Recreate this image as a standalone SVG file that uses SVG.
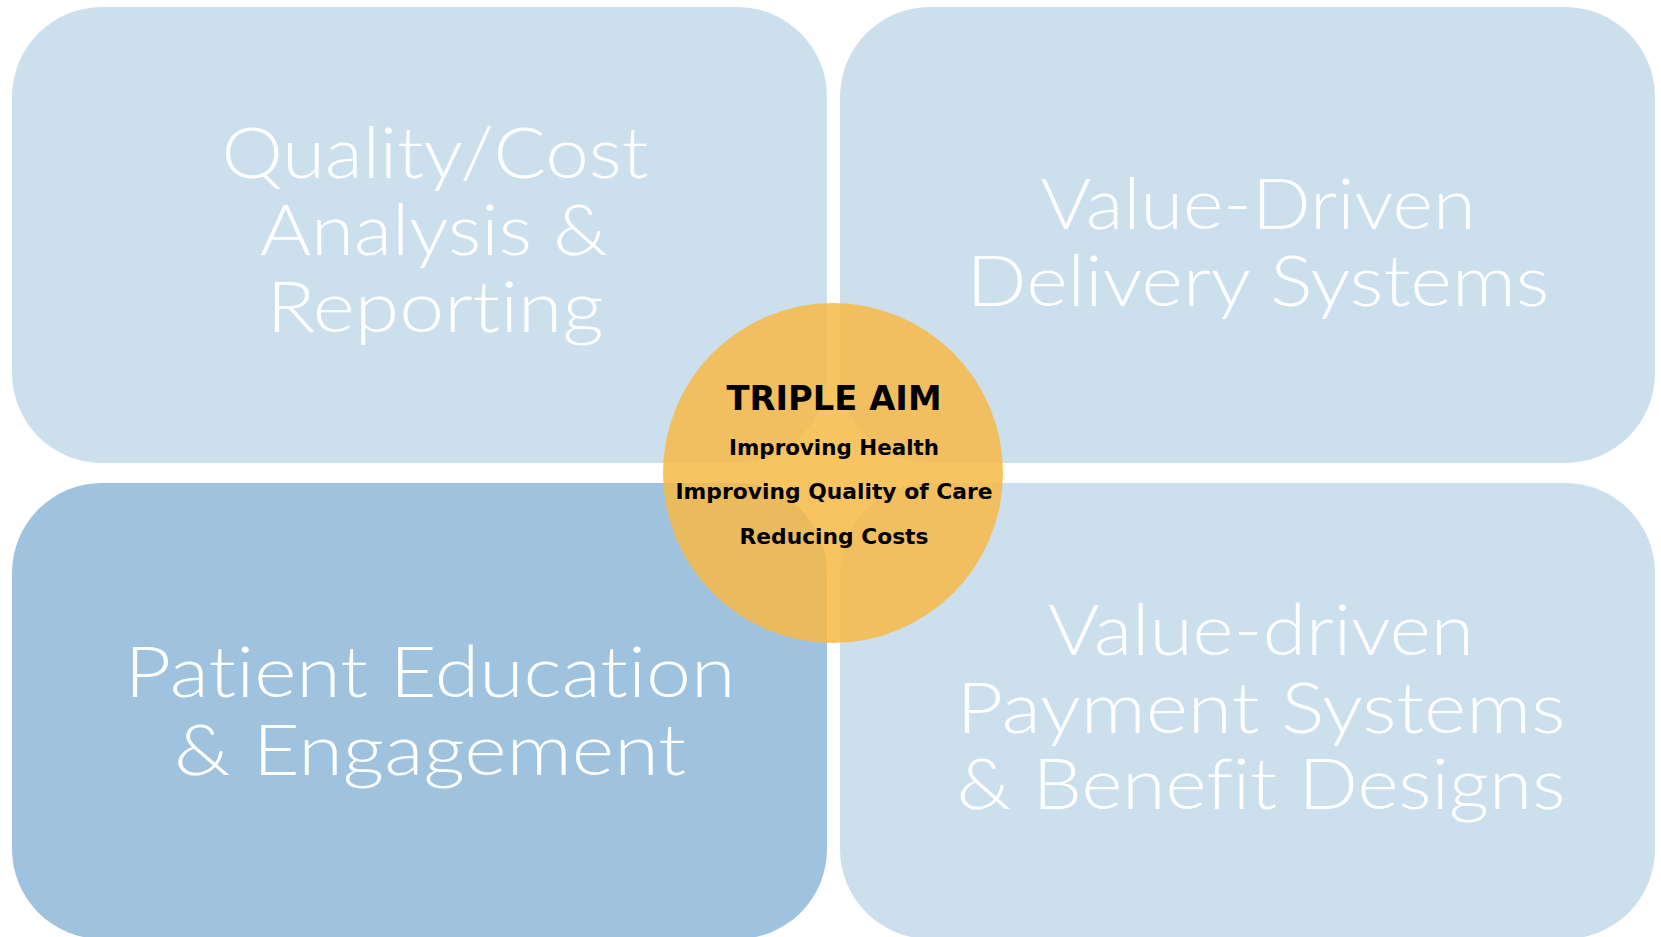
<svg xmlns="http://www.w3.org/2000/svg" width="1661" height="937" viewBox="0 0 1661 937">
<style>
.box{fill:#CCDFED}
.box2{fill:#9FC2DF}
.big{font-family:Lato,"Open Sans","Noto Sans",sans-serif;font-weight:300;font-size:70px;fill:#FFFFFF;text-anchor:middle;font-variant-ligatures:none;font-feature-settings:"liga" 0,"clig" 0}
.aim{font-family:"DejaVu Sans","Liberation Sans",sans-serif;font-weight:bold;fill:#000000;text-anchor:middle}
</style>
<rect width="1661" height="937" fill="#FFFFFF"/>
<g id="quality-cost">
<rect class="box" x="12" y="7" width="815" height="456" rx="90" ry="90"/>
<text class="big" x="435" y="178" textLength="427" lengthAdjust="spacingAndGlyphs">Quality/Cost</text>
<text class="big" x="434" y="255" textLength="348" lengthAdjust="spacingAndGlyphs">Analysis &amp;</text>
<text class="big" x="435" y="332" textLength="337" lengthAdjust="spacingAndGlyphs">Reporting</text>
</g>
<g id="delivery-systems">
<rect class="box" x="840" y="7" width="815" height="456" rx="90" ry="90"/>
<text class="big" x="1258" y="229" textLength="435" lengthAdjust="spacingAndGlyphs">Value-Driven</text>
<text class="big" x="1258" y="306" textLength="583" lengthAdjust="spacingAndGlyphs">Delivery Systems</text>
</g>
<g id="patient-education">
<rect class="box2" x="12" y="483" width="815" height="456" rx="90" ry="90"/>
<text class="big" x="430" y="697" textLength="611" lengthAdjust="spacingAndGlyphs">Patient Education</text>
<text class="big" x="430" y="775" textLength="512" lengthAdjust="spacingAndGlyphs">&amp; Engagement</text>
</g>
<g id="payment-systems">
<rect class="box" x="840" y="483" width="815" height="456" rx="90" ry="90"/>
<text class="big" x="1261" y="655" textLength="426" lengthAdjust="spacingAndGlyphs">Value-driven</text>
<text class="big" x="1261" y="733" textLength="609" lengthAdjust="spacingAndGlyphs">Payment Systems</text>
<text class="big" x="1261" y="809" textLength="609" lengthAdjust="spacingAndGlyphs">&amp; Benefit Designs</text>
</g>
<g id="connectors"></g>
<g id="triple-aim">
<circle cx="833" cy="473" r="170" fill="#F7BA45" fill-opacity="0.85"/>
<text class="aim" x="834" y="410" font-size="33" textLength="215" lengthAdjust="spacingAndGlyphs">TRIPLE AIM</text>
<text class="aim" x="834" y="455" font-size="22" textLength="210" lengthAdjust="spacingAndGlyphs">Improving Health</text>
<text class="aim" x="834" y="499" font-size="22" textLength="317" lengthAdjust="spacingAndGlyphs">Improving Quality of Care</text>
<text class="aim" x="834" y="544" font-size="22" textLength="189" lengthAdjust="spacingAndGlyphs">Reducing Costs</text>
</g>
</svg>
